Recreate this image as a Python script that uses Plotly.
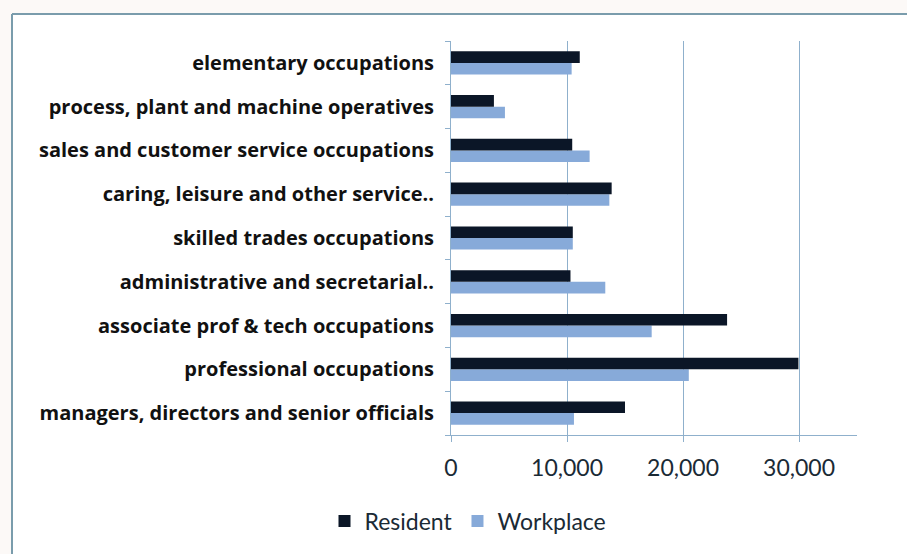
import plotly.graph_objects as go

# Occupation groups, bottom to top as drawn
categories = [
    "managers, directors and senior officials",
    "professional occupations",
    "associate prof & tech occupations",
    "administrative and secretarial..",
    "skilled trades occupations",
    "caring, leisure and other service..",
    "sales and customer service occupations",
    "process, plant and machine operatives",
    "elementary occupations",
]
resident = [15000, 29950, 23800, 10300, 10500, 13850, 10450, 3700, 11100]
workplace = [10600, 20500, 17300, 13300, 10500, 13650, 11950, 4650, 10400]
x_ticks = [0, 10000, 20000, 30000]
x_tick_labels = ["0", "10,000", "20,000", "30,000"]

W, H = 907, 554
L, R, T, B = 451, 50, 41, 119
pw, ph = W - L - R, H - T - B


def px_x(px):
    return (px - L) / pw


def px_y(py):
    return (H - B - py) / ph


fig = go.Figure()
fig.add_trace(go.Bar(
    y=categories, x=workplace, name="Workplace", orientation="h",
    marker=dict(color="#87aad9", line=dict(width=0)), legendrank=2,
))
fig.add_trace(go.Bar(
    y=categories, x=resident, name="Resident", orientation="h",
    marker=dict(color="#0b1627", line=dict(width=0)), legendrank=1,
))

grid = "#8fb0cc"

# white chart panel with its frame on the top and left edges
fig.add_shape(type="rect", xref="paper", yref="paper",
              x0=px_x(12), x1=px_x(W + 5), y0=px_y(14), y1=px_y(H + 5),
              fillcolor="white", line=dict(width=0), layer="below")
fig.add_shape(type="line", xref="paper", yref="paper",
              x0=px_x(12), x1=px_x(W + 5), y0=px_y(14), y1=px_y(14),
              line=dict(color="#7a9cac", width=2))
fig.add_shape(type="line", xref="paper", yref="paper",
              x0=px_x(12), x1=px_x(12), y0=px_y(14), y1=px_y(H + 5),
              line=dict(color="#7a9cac", width=2))

fig.update_layout(
    width=W, height=H,
    margin=dict(l=L, r=R, t=T, b=B),
    paper_bgcolor="#fcf9f7",
    plot_bgcolor="rgba(0,0,0,0)",
    barmode="group",
    bargap=0.47,
    bargroupgap=0,
    showlegend=True,
    legend=dict(
        orientation="h", x=px_x(468), xanchor="center",
        y=px_y(521), yanchor="middle",
        font=dict(family="Lato", size=23, color="#1a2a35"),
        itemwidth=30, traceorder="normal", bgcolor="rgba(0,0,0,0)",
    ),
    xaxis=dict(
        range=[0, 35000],
        tickvals=x_ticks, ticktext=x_tick_labels,
        showgrid=True, gridcolor=grid, gridwidth=1,
        showline=True, linecolor=grid, linewidth=1,
        ticks="outside", ticklen=6, tickcolor=grid,
        tickfont=dict(family="Lato", size=23, color="#1a2a35"),
        ticklabelstandoff=6,
        zeroline=False, fixedrange=True,
    ),
    yaxis=dict(
        type="category",
        categoryorder="array", categoryarray=categories,
        showline=True, linecolor=grid, linewidth=1,
        ticks="outside", ticklen=5, tickcolor=grid,
        tickson="boundaries",
        showgrid=False,
        tickfont=dict(family="Open Sans", size=20, color="#111111", weight="bold"),
        ticklabelstandoff=12,
        fixedrange=True,
    ),
)

fig.write_html("out.html")
